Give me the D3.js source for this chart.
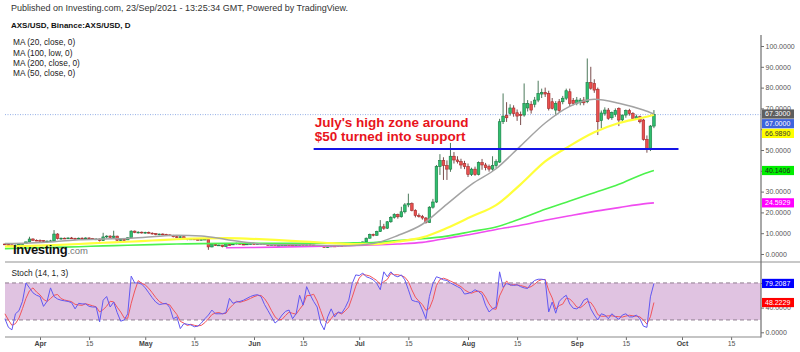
<!DOCTYPE html>
<html><head><meta charset="utf-8">
<script src="https://cdn.jsdelivr.net/npm/d3@7/dist/d3.min.js"></script>
<style>
html,body{margin:0;padding:0;background:#fff;}
svg{display:block;}
</style></head>
<body>
<svg id="chart" width="800" height="352"></svg>
<script>
// ---------------- DATA ----------------
const publishedText = "Published on Investing.com, 23/Sep/2021 - 13:25:34 GMT, Powered by TradingView.";
const titleText = "AXS/USD, Binance:AXS/USD, D";
const legendLabels = ["MA (20, close, 0)", "MA (100, low, 0)", "MA (200, close, 0)", "MA (50, close, 0)"];
const annotationLines = ["July's high zone around", "$50 turned into support"];
const stochLabel = "Stoch (14, 1, 3)";

const startDate = "2021-03-22"; // first daily candle, one candle per day to 2021-09-23

const open = [4.8,4.5,4.4,4.1,4.3,4.8,5.0,5.8,7.2,6.6,
6.5,6.4,6.0,6.2,6.3,9.6,7.4,7.6,7.5,7.7,
7.5,7.2,7.6,7.4,7.7,7.4,7.0,7.2,6.4,8.2,
8.6,8.0,8.6,6.6,6.9,6.8,7.8,11.0,10.4,10.5,
10.2,10.4,10.0,9.8,9.3,9.6,9.4,9.2,8.9,8.3,
8.0,8.3,7.4,7.0,7.2,7.0,6.9,7.0,7.1,3.4,
4.5,4.2,4.3,3.6,4.5,4.4,4.8,5.2,4.7,4.5,
4.8,5.0,4.8,4.9,5.0,4.5,4.3,4.4,4.0,4.1,
4.3,4.3,4.2,4.0,4.2,4.5,4.2,4.4,4.3,4.1,
3.9,3.6,3.2,3.5,3.8,3.7,4.0,3.9,4.3,4.7,
5.2,5.5,5.4,5.8,7.6,9.4,9.0,10.8,13.1,12.4,
15.5,17.6,19.0,17.9,20.3,23.6,24.2,21.0,18.5,18.0,
17.3,15.2,22.5,25.0,42.0,44.9,42.5,40.8,47.0,45.2,
44.4,43.5,42.0,38.2,40.8,38.2,43.9,42.8,42.0,40.8,
42.5,44.2,63.6,66.5,67.6,70.2,67.9,67.0,66.8,70.2,
72.0,72.0,74.0,76.9,77.7,77.2,73.2,69.2,73.2,73.2,
74.9,78.0,73.9,72.4,72.7,74.0,73.2,82.4,82.0,79.2,
64.1,67.6,69.2,65.5,67.0,70.0,64.5,66.8,68.9,67.5,
65.2,66.0,64.4,55.1,50.8,61.5];
const high = [5.0,4.8,4.7,4.5,4.9,5.2,6.0,8.3,7.6,7.0,
7.0,6.6,6.5,6.8,11.5,10.0,7.9,7.9,8.0,8.2,
7.8,7.9,8.0,8.0,8.0,7.7,7.6,7.4,10.2,9.0,
9.0,11.2,8.8,7.2,7.3,8.0,11.4,11.3,10.9,10.8,
10.7,10.8,10.4,10.0,9.8,9.9,9.7,9.4,9.2,8.6,
8.6,8.5,7.6,7.5,7.4,7.3,7.2,7.4,7.2,4.8,
4.9,4.6,4.4,4.7,4.8,4.9,5.4,5.3,4.9,4.9,
5.2,5.2,5.1,5.2,5.0,4.7,4.5,4.5,4.2,4.4,
4.5,4.5,4.3,4.3,4.7,4.6,4.6,4.6,4.4,4.2,
4.0,3.7,3.6,3.9,4.0,4.1,4.2,4.4,4.8,5.4,
5.7,5.8,6.0,7.9,9.8,9.8,11.2,16.3,14.5,15.8,
18.2,19.6,19.4,22.7,24.5,29.0,24.8,21.5,19.5,18.8,
17.8,23.0,26.5,42.8,48.0,46.5,45.0,53.4,49.0,47.0,
45.8,44.8,43.5,41.5,42.0,44.5,45.7,43.8,43.0,47.0,
45.5,65.0,77.2,73.0,72.0,71.5,69.5,68.5,82.0,74.0,
73.5,75.5,83.3,79.5,80.0,78.5,75.0,73.5,74.5,76.0,
79.5,79.5,75.0,75.5,75.0,75.5,94.0,90.0,84.0,80.0,
69.0,70.5,70.2,68.5,70.0,70.5,67.0,69.5,69.8,68.2,
67.0,66.5,65.0,57.0,62.0,69.2];
const low = [4.3,4.2,4.0,3.9,4.2,4.6,4.9,5.6,6.2,6.2,
6.1,5.8,5.6,5.9,6.2,7.0,6.8,7.2,7.2,7.3,
6.9,7.0,7.2,7.2,7.2,6.8,6.8,6.0,6.3,7.6,
7.8,7.8,6.2,6.2,6.3,6.7,7.7,10.0,9.9,9.8,
9.8,9.8,9.4,9.0,9.0,9.0,8.8,8.6,8.0,7.6,
7.8,7.2,6.6,6.8,6.8,6.5,6.6,6.8,2.0,3.2,
3.9,3.9,3.2,3.5,4.2,4.3,4.6,4.5,4.3,4.4,
4.6,4.6,4.6,4.7,4.4,4.2,4.1,3.9,3.7,3.9,
4.1,4.1,3.9,3.9,4.1,4.1,4.1,4.2,4.0,3.8,
3.5,3.1,2.9,3.4,3.5,3.6,3.8,3.8,4.2,4.6,
5.0,5.2,5.2,5.7,7.4,8.5,8.8,10.6,11.6,12.0,
15.0,17.0,17.0,17.5,19.5,22.5,20.5,17.6,17.5,16.5,
14.6,15.0,21.8,24.5,38.0,35.6,35.6,39.5,43.5,43.5,
41.0,40.8,37.0,37.5,37.6,37.8,40.5,40.2,39.6,40.0,
41.2,43.8,62.5,63.5,66.5,66.0,64.0,62.0,66.0,68.5,
67.5,70.5,73.0,75.0,75.5,69.0,69.5,66.5,68.0,72.0,
74.0,71.0,71.5,71.5,71.5,71.5,72.5,79.0,77.5,57.2,
60.5,66.5,64.5,64.5,66.0,61.5,63.5,65.5,66.5,64.5,
64.5,62.8,54.5,48.7,49.5,60.5];
const close = [4.5,4.4,4.1,4.3,4.8,5.0,5.8,7.2,6.6,6.5,
6.4,6.0,6.2,6.3,9.6,7.4,7.6,7.5,7.7,7.5,
7.2,7.6,7.4,7.7,7.4,7.0,7.2,6.4,8.2,8.6,
8.0,8.6,6.6,6.9,6.8,7.8,11.0,10.4,10.5,10.2,
10.4,10.0,9.8,9.3,9.6,9.4,9.2,8.9,8.3,8.0,
8.3,7.4,7.0,7.2,7.0,6.9,7.0,7.1,3.4,4.5,
4.2,4.3,3.6,4.5,4.4,4.8,5.2,4.7,4.5,4.8,
5.0,4.8,4.9,5.0,4.5,4.3,4.4,4.0,4.1,4.3,
4.3,4.2,4.0,4.2,4.5,4.2,4.4,4.3,4.1,3.9,
3.6,3.2,3.5,3.8,3.7,4.0,3.9,4.3,4.7,5.2,
5.5,5.4,5.8,7.6,9.4,9.0,10.8,13.1,12.4,15.5,
17.6,19.0,17.9,20.3,23.6,24.2,21.0,18.5,18.0,17.3,
15.2,22.5,25.0,42.0,44.9,42.5,40.8,47.0,45.2,44.4,
42.8,42.0,38.2,40.8,38.2,43.9,42.8,41.5,40.8,42.5,
44.4,63.6,66.3,65.5,70.2,67.5,66.3,66.5,72.4,72.4,
69.2,74.0,77.2,77.7,76.9,70.0,70.0,72.4,68.9,74.9,
78.5,72.4,72.4,74.0,74.0,72.7,82.4,79.7,78.8,63.6,
67.8,69.2,65.2,68.0,69.0,64.4,66.8,68.9,67.5,65.2,
66.0,63.6,55.1,50.8,61.5,67.0];

// moving averages (weekly readings)
const maDates = ["2021-03-22","2021-03-29","2021-04-05","2021-04-12","2021-04-19","2021-04-26","2021-05-03","2021-05-10","2021-05-17","2021-05-24","2021-05-31","2021-06-07","2021-06-14","2021-06-21","2021-06-28","2021-07-05","2021-07-12","2021-07-19","2021-07-26","2021-08-02","2021-08-09","2021-08-16","2021-08-23","2021-08-30","2021-09-06","2021-09-13","2021-09-20","2021-09-23"];
const ma20  = [5.0,5.3,5.9,6.8,7.2,7.5,8.3,9.0,8.7,7.0,5.4,4.5,4.5,4.1,4.0,5.0,8.9,14.3,24.0,33.5,41.0,52.0,63.0,71.0,74.4,72.5,69.2,67.3];
const ma50  = [3.6,3.9,4.3,4.8,5.4,5.9,6.5,7.1,7.5,7.6,7.3,6.8,6.1,5.4,4.8,4.7,6.0,8.0,12.5,18.0,23.5,33.5,44.5,52.0,58.5,63.0,65.6,66.989];
const ma100 = [2.6,2.9,3.2,3.5,3.9,4.2,4.5,4.8,5.0,5.1,5.2,5.2,5.2,5.2,5.3,5.5,6.5,7.3,8.6,10.8,13.0,17.0,21.5,25.5,29.5,33.5,38.5,40.1406];
const ma200 = [null,null,null,null,null,null,null,null,null,3.0,3.1,3.3,3.5,3.7,4.0,4.3,4.8,5.6,7.6,9.5,11.8,13.8,16.2,18.4,20.5,22.3,24.1,24.5929];

// Stochastic (14,1,3): %K and %D, one value per candle
const stochK = [22,8,4,30,35,50,80,72,64,60,
58,42,50,72,58,54,52,51,50,48,
38,47,46,46,42,41,41,17,52,58,
41,49,32,18,20,30,91,80,80,78,
72,64,56,49,45,46,47,40,22,25,
6,14,13,12,9,10,15,22,28,36,
30,30,30,32,55,47,49,50,52,55,
58,60,61,58,45,35,25,15,20,28,
34,36,22,30,60,44,74,61,50,41,
15,4,25,38,25,33,31,40,52,79,
93,92,96,90,88,85,79,69,98,90,
98,92,90,93,85,69,52,50,49,36,
22,58,79,90,88,85,84,80,77,74,
71,62,63,65,69,66,61,44,33,38,
41,98,73,79,77,76,77,74,72,71,
79,84,86,86,85,33,49,31,50,56,
60,46,39,38,42,52,55,38,28,20,
30,28,22,30,25,21,28,30,25,25,
28,22,10,8,57.5,79.2087];
const stochD = [30,20,11.3,14,23,38.3,55,67.3,72,65.3,
60.7,53.3,50,54.7,60,61.3,54.7,52.3,51,49.7,
45.3,44.3,43.7,46.3,44.7,43,41.3,33,36.7,42.3,
50.3,49.3,40.7,33,23.3,22.7,47,67,83.7,79.3,
76.7,71.3,64,56.3,50,46.7,46,44.3,36.3,29,
17.7,15,11,13,11.3,10.3,11.3,15.7,21.7,28.7,
31.3,32,30,30.7,39,44.7,50.3,48.7,50.3,52.3,
55,57.7,59.7,59.7,54.7,46,35,25,20,21,
27.3,32.7,30.7,29.3,37.3,44.7,59.3,59.7,61.7,50.7,
35.3,20,14.7,22.3,29.3,32,29.7,34.7,41,57,
74.7,88,93.7,92.7,91.3,87.7,84,77.7,82,85.7,
95.3,93.3,93.3,91.7,89.3,82.3,68.7,57,50.3,45,
35.7,38.7,53,75.7,85.7,87.7,85.7,83,80.3,77,
74,69,65.3,63.3,65.7,66.7,65.3,57,46,38.3,
37.3,59,70.7,83.3,76.3,77.3,76.7,75.7,74.3,72.3,
74,78,83,85.3,85.7,68,55.7,37.7,43.3,45.7,
55.3,54,48.3,41,39.7,44,49.7,48.3,40.3,28.7,
26,26,26.7,26.7,25.7,25.3,24.7,26.3,27.7,26.7,
26,25,20,13.3,25.2,48.2229];

const priceTicks = [0,10,20,30,40,50,60,70,80,90,100];
const stochTicks = [0,40,80];
const xTickDates = ["2021-04-01","2021-04-15","2021-05-01","2021-05-15","2021-06-01","2021-06-15","2021-07-01","2021-07-15","2021-08-01","2021-08-15","2021-09-01","2021-09-15","2021-10-01","2021-10-15"];
const xTickLabels = ["Apr","15","May","15","Jun","15","Jul","15","Aug","15","Sep","15","Oct","15"];

const supportLevel = 50.5;
const supportFrom = "2021-06-18";
const supportTo = "2021-09-30";

// ---------------- STYLE ----------------
const FONT = "'Liberation Sans', Arial, Helvetica, sans-serif";
const C = {
  up: "#2fbf6e", upEdge: "#177a42", down: "#e9504f", downEdge: "#a62a2a",
  wickUp: "#4d7a5c", wickDown: "#7a4d4d",
  ma20: "#a3a3a3", ma50: "#ffff3a", ma100: "#4cf24c", ma200: "#f04cf0",
  support: "#1414e6", note: "#e8141c", priceLine: "#93aee6",
  band: "#e0c3e1", bandLine: "#8f7d8f", k: "#6158f2", d: "#f2545b",
  axis: "#6e6e6e", tickText: "#555"
};

// ---------------- CHART ----------------
const svg = d3.select("#chart").attr("font-family", FONT);
const parse = d3.utcParse("%Y-%m-%d");
const t0 = parse(startDate);
const dates = close.map((_, i) => d3.utcDay.offset(t0, i));
const candles = dates.map((d, i) => ({date: d, o: open[i], h: high[i], l: low[i], c: close[i]}));

const AX = 761;
const x = d3.scaleUtc().domain([parse("2021-04-01"), parse("2021-10-01")]).range([40, 682]);
const y = d3.scaleLinear().domain([0, 100]).range([254, 46]);
const ys = d3.scaleLinear().domain([0, 100]).range([332.3, 270.6]);

const defs = svg.append("defs");
defs.append("clipPath").attr("id", "mainClip").append("rect")
  .attr("x", 3).attr("y", 33).attr("width", AX - 3).attr("height", 228);
defs.append("clipPath").attr("id", "stClip").append("rect")
  .attr("x", 3).attr("y", 264).attr("width", AX - 3).attr("height", 72);

// header texts
svg.append("text").attr("x", 11).attr("y", 10.5).attr("font-size", 9).attr("fill", "#333").text(publishedText);
svg.append("text").attr("x", 11).attr("y", 28).attr("font-size", 8).attr("font-weight", "bold").attr("fill", "#111").text(titleText);
svg.append("g").selectAll("text").data(legendLabels).join("text")
  .attr("x", 13).attr("y", (d, i) => 45.3 + i * 10.3).attr("font-size", 8.3).attr("fill", "#222").text(d => d);

// separator between panes
svg.append("line").attr("x1", 5).attr("x2", 800).attr("y1", 262).attr("y2", 262)
  .attr("stroke", "#c8c8c8").attr("stroke-width", 2);

// ---- main pane
const mg = svg.append("g").attr("clip-path", "url(#mainClip)");
mg.append("line").attr("x1", 5).attr("x2", AX).attr("y1", y(close[close.length - 1])).attr("y2", y(close[close.length - 1]))
  .attr("stroke", C.priceLine).attr("stroke-width", 1).attr("stroke-dasharray", "1,1.5");

const cw = 2.6;
mg.append("g").selectAll("line").data(candles).join("line")
  .attr("x1", d => x(d.date)).attr("x2", d => x(d.date))
  .attr("y1", d => y(d.h)).attr("y2", d => y(d.l))
  .attr("stroke", d => d.c >= d.o ? C.wickUp : C.wickDown).attr("stroke-width", 1);
mg.append("g").selectAll("rect").data(candles).join("rect")
  .attr("x", d => x(d.date) - cw / 2).attr("width", cw)
  .attr("y", d => y(Math.max(d.o, d.c)))
  .attr("height", d => Math.max(0.8, Math.abs(y(d.o) - y(d.c))))
  .attr("fill", d => d.c >= d.o ? C.up : C.down)
  .attr("stroke", d => d.c >= d.o ? C.upEdge : C.downEdge).attr("stroke-width", 0.6);

const mDates = maDates.map(parse);
const maLine = d3.line().defined(d => d != null).x((d, i) => x(mDates[i])).y(d => y(d)).curve(d3.curveMonotoneX);
[[ma200, C.ma200, 1.6], [ma100, C.ma100, 1.6], [ma50, C.ma50, 2.2], [ma20, C.ma20, 1.5]].forEach(([arr, col, w]) => {
  mg.append("path").attr("d", maLine(arr)).attr("fill", "none").attr("stroke", col).attr("stroke-width", w);
});

// support line and note
mg.append("line").attr("x1", x(parse(supportFrom))).attr("x2", x(parse(supportTo)))
  .attr("y1", y(supportLevel)).attr("y2", y(supportLevel)).attr("stroke", C.support).attr("stroke-width", 2);
svg.append("g").selectAll("text").data(annotationLines).join("text")
  .attr("x", x(parse(supportFrom)) + 1).attr("y", (d, i) => 126.5 + i * 14.5)
  .attr("font-size", 13.5).attr("font-weight", "bold").attr("fill", C.note).text(d => d);

// watermark
const wm = svg.append("text").attr("x", 13).attr("y", 253.5);
wm.append("tspan").attr("font-size", 13).attr("font-weight", "bold").attr("fill", "#111").attr("letter-spacing", -0.3).text("Investing");
wm.append("tspan").attr("font-size", 9.5).attr("fill", "#777").text(".com");

// ---- stochastic pane
const st = svg.append("g").attr("clip-path", "url(#stClip)");
st.append("rect").attr("x", 5).attr("width", AX - 5).attr("y", ys(80)).attr("height", ys(20) - ys(80)).attr("fill", C.band);
[80, 20].forEach(v => st.append("line").attr("x1", 5).attr("x2", AX).attr("y1", ys(v)).attr("y2", ys(v))
  .attr("stroke", C.bandLine).attr("stroke-width", 1).attr("stroke-dasharray", "4,3"));
const sLine = d3.line().x((d, i) => x(dates[i])).y(d => ys(d));
st.append("path").attr("d", sLine(stochD)).attr("fill", "none").attr("stroke", C.d).attr("stroke-width", 1);
st.append("path").attr("d", sLine(stochK)).attr("fill", "none").attr("stroke", C.k).attr("stroke-width", 1);
svg.append("text").attr("x", 11.5).attr("y", 276).attr("font-size", 8.3).attr("fill", "#222").text(stochLabel);

// ---- last value labels (positions computed with simple collision avoidance)
function placeBoxes(items, scale) {
  const sorted = items.slice().sort((a, b) => b.v - a.v);
  let prev = -Infinity;
  sorted.forEach(it => {
    let cy = scale(it.v);
    if (cy < prev + 9.7) cy = prev + 9.7;
    prev = cy;
    it.cy = cy;
  });
  return sorted;
}
const last = a => a[a.length - 1];
const mainBoxes = placeBoxes([
  {v: last(ma20), bg: "#5e5e5e", fg: "#fff"},
  {v: last(close), bg: "#3d63dd", fg: "#fff"},
  {v: last(ma50), bg: "#ffff00", fg: "#333"},
  {v: last(ma100), bg: "#00ee00", fg: "#222"},
  {v: last(ma200), bg: "#ff00ff", fg: "#fff"}
], y);
const stochBoxes = placeBoxes([
  {v: last(stochK), bg: "#0000ff", fg: "#fff"},
  {v: last(stochD), bg: "#ff0000", fg: "#fff"}
], ys);

// ---- axes
function styleAxis(g) {
  g.select(".domain").remove();
  g.selectAll(".tick line").attr("stroke", C.axis);
  g.selectAll(".tick text").attr("fill", C.tickText).attr("font-size", 7).attr("font-family", FONT);
}
function hideCovered(g, scale, boxes) {
  g.selectAll(".tick text").style("display", d => boxes.some(b => Math.abs(scale(d) - b.cy) < 4.6) ? "none" : null);
}
const yaMain = svg.append("g").attr("transform", `translate(${AX},0)`)
  .call(d3.axisRight(y).tickValues(priceTicks).tickSize(3).tickPadding(1.5).tickFormat(d3.format(".4f"))).call(styleAxis);
hideCovered(yaMain, y, mainBoxes);
const yaSt = svg.append("g").attr("transform", `translate(${AX},0)`)
  .call(d3.axisRight(ys).tickValues(stochTicks).tickSize(3).tickPadding(1.5).tickFormat(d3.format(".4f"))).call(styleAxis);
hideCovered(yaSt, ys, stochBoxes);
const xa = svg.append("g").attr("transform", "translate(0,337)")
  .call(d3.axisBottom(x).tickValues(xTickDates.map(parse)).tickSize(3).tickPadding(1.5).tickFormat((d, i) => xTickLabels[i]))
  .call(styleAxis);
xa.selectAll(".tick text").attr("font-weight", (d, i) => xTickLabels[i] === "15" ? "normal" : "bold")
  .attr("fill", (d, i) => xTickLabels[i] === "15" ? "#555" : "#444");

svg.append("line").attr("x1", AX).attr("x2", AX).attr("y1", 35).attr("y2", 337.5).attr("stroke", C.axis).attr("stroke-width", 1.2);
svg.append("line").attr("x1", 5).attr("x2", AX).attr("y1", 337).attr("y2", 337).attr("stroke", "#8a8a8a").attr("stroke-width", 1.2);

function drawBoxes(boxes) {
  boxes.forEach(it => {
    svg.append("rect").attr("x", 762).attr("y", it.cy - 4.6).attr("width", 32).attr("height", 9.2).attr("fill", it.bg);
    svg.append("text").attr("x", 765).attr("y", it.cy).attr("dy", "0.35em").attr("font-size", 7)
      .attr("fill", it.fg).text(d3.format(".4f")(it.v));
  });
}
drawBoxes(mainBoxes);
drawBoxes(stochBoxes);
</script>
</body></html>
